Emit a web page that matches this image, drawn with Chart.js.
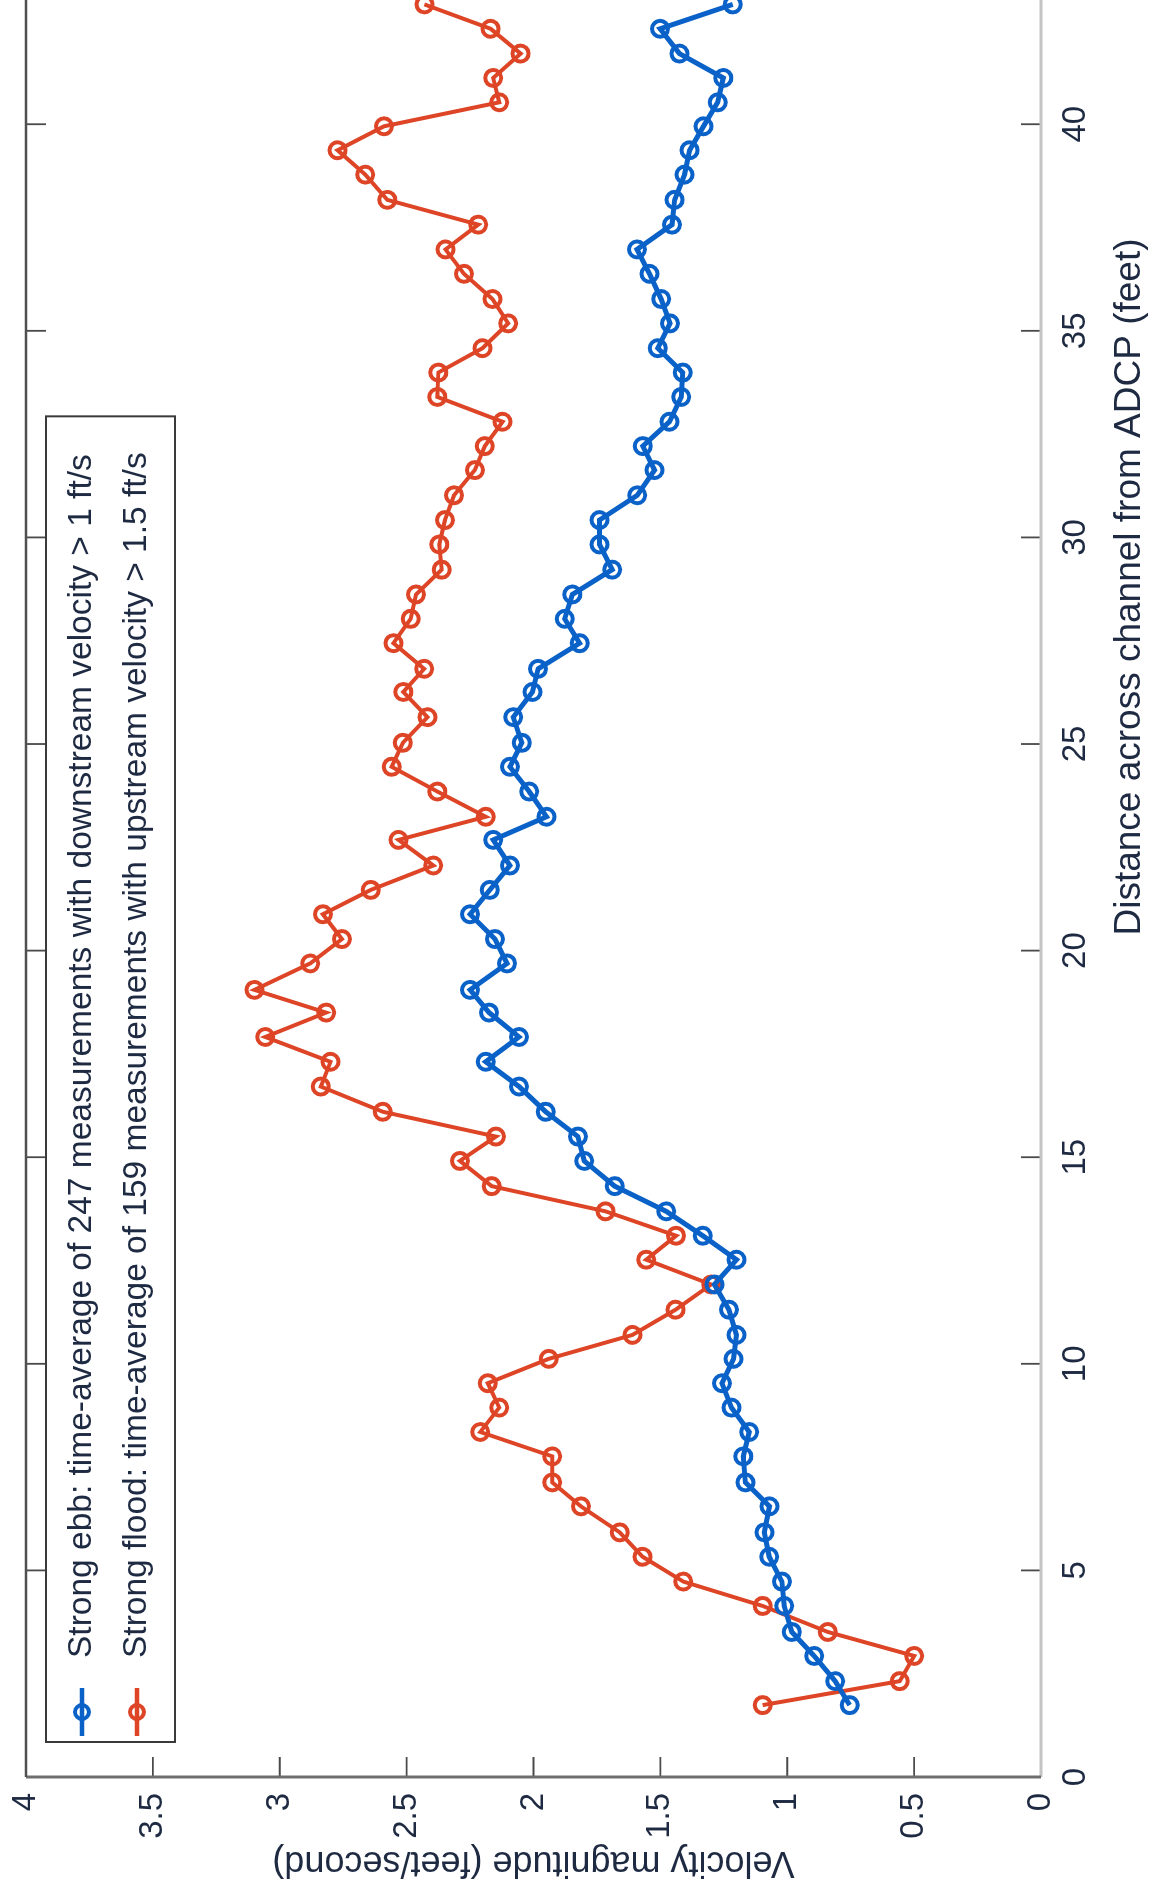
<!DOCTYPE html>
<html>
<head>
<meta charset="utf-8">
<title>Velocity magnitude across channel</title>
<script src="https://cdn.jsdelivr.net/npm/chart.js@4.4.1/dist/chart.umd.min.js"></script>
<style>
  html, body { margin: 0; padding: 0; background: #fff; overflow: hidden; }
  body { width: 1154px; height: 1891px; position: relative; }
  /* the figure is scanned sideways: draw it upright, then turn it a quarter counter-clockwise */
  #wrap {
    position: absolute;
    left: 0;
    top: 1891px;
    width: 2560px;
    height: 1154px;
    transform-origin: 0 0;
    transform: rotate(-90deg);
  }
</style>
</head>
<body>
<div id="wrap"><canvas id="velocityChart" width="2560" height="1154"></canvas></div>
<script>
// Distance across channel (feet), one value per ADCP bin
const distanceFt = [
  1.74, 2.32, 2.93, 3.51, 4.14, 4.73, 5.33, 5.92, 6.55, 7.13,
  7.76, 8.35, 8.94, 9.53, 10.12, 10.70, 11.31, 11.92, 12.52, 13.10,
  13.69, 14.30, 14.91, 15.50, 16.10, 16.71, 17.31, 17.91, 18.50, 19.05,
  19.69, 20.28, 20.88, 21.47, 22.06, 22.68, 23.24, 23.85, 24.45, 25.03,
  25.65, 26.26, 26.82, 27.44, 28.03, 28.62, 29.22, 29.83, 30.42, 31.02,
  31.63, 32.21, 32.80, 33.40, 33.99, 34.58, 35.18, 35.77, 36.38, 36.97,
  37.57, 38.17, 38.78, 39.37, 39.95, 40.53, 41.12, 41.71, 42.31, 42.90
];

// Strong ebb, feet/second
const ebbVelocity = [
  0.754, 0.811, 0.894, 0.982, 1.012, 1.021, 1.071, 1.090, 1.070, 1.165,
  1.173, 1.150, 1.220, 1.257, 1.212, 1.200, 1.230, 1.287, 1.200, 1.333,
  1.477, 1.680, 1.800, 1.825, 1.952, 2.057, 2.188, 2.057, 2.175, 2.250,
  2.104, 2.152, 2.250, 2.172, 2.093, 2.159, 1.949, 2.017, 2.093, 2.046,
  2.080, 2.004, 1.982, 1.818, 1.877, 1.847, 1.690, 1.740, 1.740, 1.591,
  1.523, 1.569, 1.464, 1.418, 1.412, 1.510, 1.462, 1.497, 1.543, 1.592,
  1.454, 1.444, 1.405, 1.385, 1.330, 1.274, 1.252, 1.425, 1.501, 1.215
];

// Strong flood, feet/second
const floodVelocity = [
  1.097, 0.557, 0.500, 0.840, 1.097, 1.410, 1.570, 1.660, 1.813, 1.926,
  1.926, 2.210, 2.135, 2.180, 1.940, 1.610, 1.440, 1.300, 1.556, 1.438,
  1.716, 2.165, 2.290, 2.148, 2.594, 2.838, 2.800, 3.057, 2.817, 3.100,
  2.880, 2.755, 2.830, 2.641, 2.395, 2.532, 2.188, 2.379, 2.559, 2.515,
  2.418, 2.513, 2.431, 2.552, 2.484, 2.463, 2.362, 2.371, 2.349, 2.313,
  2.231, 2.192, 2.122, 2.379, 2.375, 2.201, 2.100, 2.162, 2.274, 2.347,
  2.218, 2.576, 2.663, 2.772, 2.589, 2.135, 2.159, 2.051, 2.169, 2.430
];

const seriesLabels = [
  'Strong ebb: time-average of 247 measurements with downstream velocity > 1 ft/s',
  'Strong flood: time-average of 159 measurements with upstream velocity > 1.5 ft/s'
];

const EBB_BLUE = '#0a62c8';
const FLOOD_RED = '#dd4526';
const TEXT = '#1e2a42';
const FONT = "'Liberation Sans', Arial, Helvetica, sans-serif";

function toPoints(values) {
    return values.map((v, i) => ({ x: distanceFt[i], y: v }));
}

// Box, inward ticks and the legend, drawn the way the plotting program did it
const boxPlugin = {
    id: 'boxPlugin',
    afterDatasetsDraw(chart) {
        const { ctx, chartArea: a, scales } = chart;
        const tickLen = 20;
        ctx.save();

        // inward tick marks
        ctx.strokeStyle = '#4a4a4a';
        ctx.lineWidth = 1.8;
        ctx.beginPath();
        scales.x.ticks.forEach(t => {
            if (t.value % 5 !== 0) return;
            const px = scales.x.getPixelForValue(t.value);
            ctx.moveTo(px, a.bottom); ctx.lineTo(px, a.bottom - tickLen);
            ctx.moveTo(px, a.top); ctx.lineTo(px, a.top + tickLen);
        });
        scales.y.ticks.forEach(t => {
            const py = scales.y.getPixelForValue(t.value);
            ctx.moveTo(a.left, py); ctx.lineTo(a.left + tickLen, py);
            ctx.moveTo(a.right, py); ctx.lineTo(a.right - tickLen, py);
        });
        ctx.stroke();

        // axis lines
        ctx.lineWidth = 3;
        ctx.strokeStyle = '#c4c4c4';
        ctx.beginPath(); ctx.moveTo(a.left, a.bottom); ctx.lineTo(a.right, a.bottom); ctx.stroke();
        ctx.strokeStyle = '#6e6e6e';
        ctx.beginPath(); ctx.moveTo(a.left, a.bottom); ctx.lineTo(a.left, a.top); ctx.stroke();
        ctx.lineWidth = 2.5;
        ctx.strokeStyle = '#505050';
        ctx.beginPath(); ctx.moveTo(a.left, a.top); ctx.lineTo(a.right, a.top); ctx.lineTo(a.right, a.bottom); ctx.stroke();

        // legend, north-west corner
        ctx.font = '33.5px ' + FONT;
        const textW = Math.max(...seriesLabels.map(s => ctx.measureText(s).width));
        const boxX = a.left + 35, boxY = a.top + 20;
        const boxW = 84 + textW + 36, boxH = 129;
        ctx.fillStyle = '#fff';
        ctx.fillRect(boxX, boxY, boxW, boxH);
        ctx.strokeStyle = '#3a3a3a';
        ctx.lineWidth = 2;
        ctx.strokeRect(boxX, boxY, boxW, boxH);

        const rowY = [boxY + 36, boxY + 91];
        const colors = [EBB_BLUE, FLOOD_RED];
        seriesLabels.forEach((label, i) => {
            const y = rowY[i];
            ctx.strokeStyle = colors[i];
            ctx.lineWidth = 4.5;
            ctx.beginPath(); ctx.moveTo(boxX + 6, y); ctx.lineTo(boxX + 54, y); ctx.stroke();
            ctx.lineWidth = 4;
            ctx.beginPath(); ctx.arc(boxX + 30, y, 7, 0, Math.PI * 2); ctx.stroke();
            ctx.fillStyle = TEXT;
            ctx.textBaseline = 'middle';
            ctx.textAlign = 'left';
            ctx.fillText(label, boxX + 84, y);
        });
        ctx.restore();
    }
};

const ctx = document.getElementById('velocityChart');
new Chart(ctx, {
    type: 'scatter',
    data: {
        datasets: [
            {
                label: seriesLabels[0],
                data: toPoints(ebbVelocity),
                showLine: true,
                borderColor: EBB_BLUE,
                borderWidth: 5,
                pointRadius: 8,
                pointBorderWidth: 4,
                pointBorderColor: EBB_BLUE,
                pointBackgroundColor: 'rgba(0,0,0,0)'
            },
            {
                label: seriesLabels[1],
                data: toPoints(floodVelocity),
                showLine: true,
                borderColor: FLOOD_RED,
                borderWidth: 4,
                pointRadius: 8,
                pointBorderWidth: 4,
                pointBorderColor: FLOOD_RED,
                pointBackgroundColor: 'rgba(0,0,0,0)'
            }
        ]
    },
    options: {
        responsive: false,
        animation: false,
        devicePixelRatio: 1,
        layout: { padding: { top: 26, right: 66, left: 0, bottom: 0 } },
        plugins: {
            legend: { display: false },
            tooltip: { enabled: false }
        },
        scales: {
            x: {
                type: 'linear',
                min: 0,
                max: 57.6,
                grid: { display: false, drawTicks: false },
                border: { display: false },
                ticks: {
                    stepSize: 5,
                    padding: 15,
                    color: TEXT,
                    font: { family: FONT, size: 33 },
                    callback: v => (v % 5 === 0 ? String(v) : '')
                },
                title: {
                    display: true,
                    text: 'Distance across channel from ADCP (feet)',
                    color: TEXT,
                    font: { family: FONT, size: 37 },
                    padding: { top: 0, bottom: 2 }
                },
                afterFit: scale => {
                    scale.height = 113;
                    scale.paddingLeft = 0;
                    scale.paddingRight = 0;
                }
            },
            y: {
                type: 'linear',
                min: 0,
                max: 4,
                grid: { display: false, drawTicks: false },
                border: { display: false },
                ticks: {
                    stepSize: 0.5,
                    padding: 16,
                    color: TEXT,
                    font: { family: FONT, size: 33 },
                    callback: v => String(v)
                },
                title: {
                    display: true,
                    text: 'Velocity magnitude (feet/second)',
                    color: TEXT,
                    font: { family: FONT, size: 36 },
                    padding: { top: 7, bottom: 0 }
                },
                afterFit: scale => {
                    scale.width = 114;
                    scale.paddingTop = 0;
                    scale.paddingBottom = 0;
                }
            }
        }
    },
    plugins: [boxPlugin]
});
</script>
</body>
</html>
